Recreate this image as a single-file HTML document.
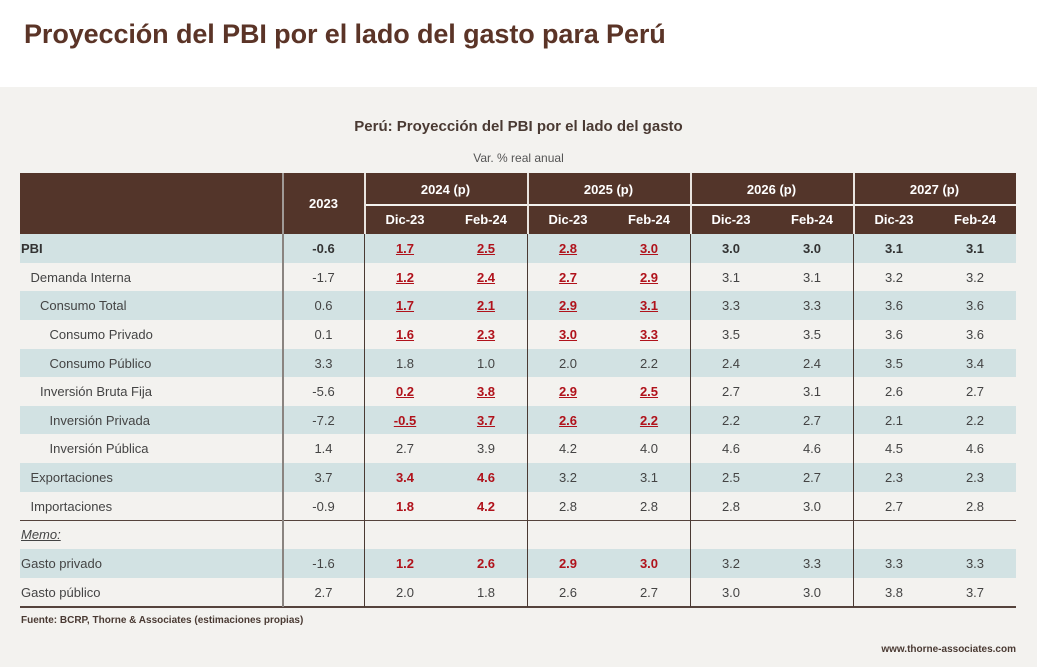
<!DOCTYPE html>
<html><head><meta charset="utf-8">
<style>
body{margin:0;width:1037px;height:667px;overflow:hidden;background:#fff;font-family:"Liberation Sans",sans-serif;position:relative}
#bg{position:absolute;left:0;top:87px;width:1037px;height:580px;background:#f3f2ef}
.abs{position:absolute}
.c{position:absolute;text-align:center;font-size:13px;color:#444;white-space:nowrap}
.hd{position:absolute;color:#fff;font-weight:bold;font-size:13px;text-align:center}
.red{color:#b0121b;font-weight:bold}
.u{text-decoration:underline}
</style></head><body>
<div id="bg"></div>
<div class="abs" style="left:24px;top:19px;font-size:27px;font-weight:bold;color:#5b3427;letter-spacing:-0.1px">Proyección del PBI por el lado del gasto para Perú</div>
<div class="abs" style="left:0;width:1037px;top:118px;text-align:center;font-size:15px;font-weight:bold;color:#4a3a33">Perú: Proyección del PBI por el lado del gasto</div>
<div class="abs" style="left:0;width:1037px;top:151px;text-align:center;font-size:12px;color:#555">Var. % real anual</div>
<div id="tbl"></div>
<div class="abs" style="left:21px;top:615px;font-size:10px;font-weight:bold;color:#4a3a33">Fuente: BCRP, Thorne &amp; Associates (estimaciones propias)</div>
<div class="abs" style="right:21px;top:644px;font-size:10px;font-weight:bold;color:#4a3a33">www.thorne-associates.com</div>
<script>
const labels=["PBI","Demanda Interna","Consumo Total","Consumo Privado","Consumo Público","Inversión Bruta Fija","Inversión Privada","Inversión Pública","Exportaciones","Importaciones","Memo:","Gasto privado","Gasto público"];
const indents=[0,1,2,3,3,2,3,3,1,1,0,0,0];
const values=[
["-0.6","1.7","2.5","2.8","3.0","3.0","3.0","3.1","3.1"],
["-1.7","1.2","2.4","2.7","2.9","3.1","3.1","3.2","3.2"],
["0.6","1.7","2.1","2.9","3.1","3.3","3.3","3.6","3.6"],
["0.1","1.6","2.3","3.0","3.3","3.5","3.5","3.6","3.6"],
["3.3","1.8","1.0","2.0","2.2","2.4","2.4","3.5","3.4"],
["-5.6","0.2","3.8","2.9","2.5","2.7","3.1","2.6","2.7"],
["-7.2","-0.5","3.7","2.6","2.2","2.2","2.7","2.1","2.2"],
["1.4","2.7","3.9","4.2","4.0","4.6","4.6","4.5","4.6"],
["3.7","3.4","4.6","3.2","3.1","2.5","2.7","2.3","2.3"],
["-0.9","1.8","4.2","2.8","2.8","2.8","3.0","2.7","2.8"],
[],
["-1.6","1.2","2.6","2.9","3.0","3.2","3.3","3.3","3.3"],
["2.7","2.0","1.8","2.6","2.7","3.0","3.0","3.8","3.7"]];
// style codes: u = red underlined, r = red bold, n = normal
const redStyle=["uuuu","uuuu","uuuu","uuuu","nnnn","uuuu","uuuu","nnnn","rrnn","rrnn","","rrrr","nnnn"];
const shaded=[1,0,1,0,1,0,1,0,1,0,0,1,0];
const years=["2024 (p)","2025 (p)","2026 (p)","2027 (p)"];
const subs=["Dic-23","Feb-24"];

const T=document.getElementById('tbl');
function add(html,cls,style,name){const d=document.createElement('div');d.className=cls;d.setAttribute('style',style);d.innerHTML=html;


T.appendChild(d);return d;}
const rowTop=[234,263,291,320,349,377,406,434,463,492,520,549,578];const rowH=[29,28,29,29,28,29,28,29,29,28,29,29,29];
add('','abs','left:20px;top:173px;width:996px;height:61px;background:#53352a','header-background');
add('2023','hd','left:283px;width:81px;top:196px','header-2023');
years.forEach((y,i)=>{const x=364+i*163;
 add(y,'hd','left:'+x+'px;width:163px;top:182px','header-year');
 subs.forEach((s,j)=>add(s,'hd','left:'+(x+j*81)+'px;width:82px;top:212px','header-sub'));
 add('','abs','left:'+x+'px;top:204px;width:163px;height:2px;background:#f3f2ef','header-divider');
});
labels.forEach((lab,r)=>{
 const top=rowTop[r],h=rowH[r];
 if(shaded[r]) add('','abs','left:20px;top:'+top+'px;width:996px;height:'+h+'px;background:#d2e2e3','row-shade');
 const bold=r===0;
 add(lab,'c','left:'+(21+indents[r]*9.5)+'px;text-align:left;top:'+(top+7)+'px;'+(bold?'font-weight:bold;color:#333;':'')+(r===10?'font-style:italic;text-decoration:underline;':''),'row-label');
 (values[r]||[]).forEach((v,k)=>{
  const cx=k===0?323.5:(364+Math.floor((k-1)/2)*163+((k-1)%2)*81+41);
  let st='left:'+(cx-40)+'px;width:80px;top:'+(top+7)+'px;';
  let cls='c';
  if(k>=1&&k<=4){const code=redStyle[r][k-1];if(code==='u')cls+=' red u';else if(code==='r')cls+=' red';}
  if(bold&&cls==='c')st+='font-weight:bold;color:#333;';
  add(v,cls,st,'cell-value');
 });
});
add('','abs','left:20px;top:520px;width:996px;height:1px;background:#55433c','memo-line');
add('','abs','left:20px;top:606px;width:996px;height:2px;background:#55433c','bottom-line');
add('','abs','left:282px;top:173px;width:2px;height:434px;background:#8a8480','col-divider');
[364,527,690,853].forEach(x=>{add('','abs','left:'+x+'px;top:173px;width:1px;height:434px;background:#4a3a33','col-divider');});
[364,527,690,853].forEach(x=>{add('','abs','left:'+x+'px;top:173px;width:2px;height:61px;background:#e9e4df','header-col-divider');});
add('','abs','left:282px;top:173px;width:2px;height:61px;background:#a09a96','header-col-divider');
</script>
</body></html>
